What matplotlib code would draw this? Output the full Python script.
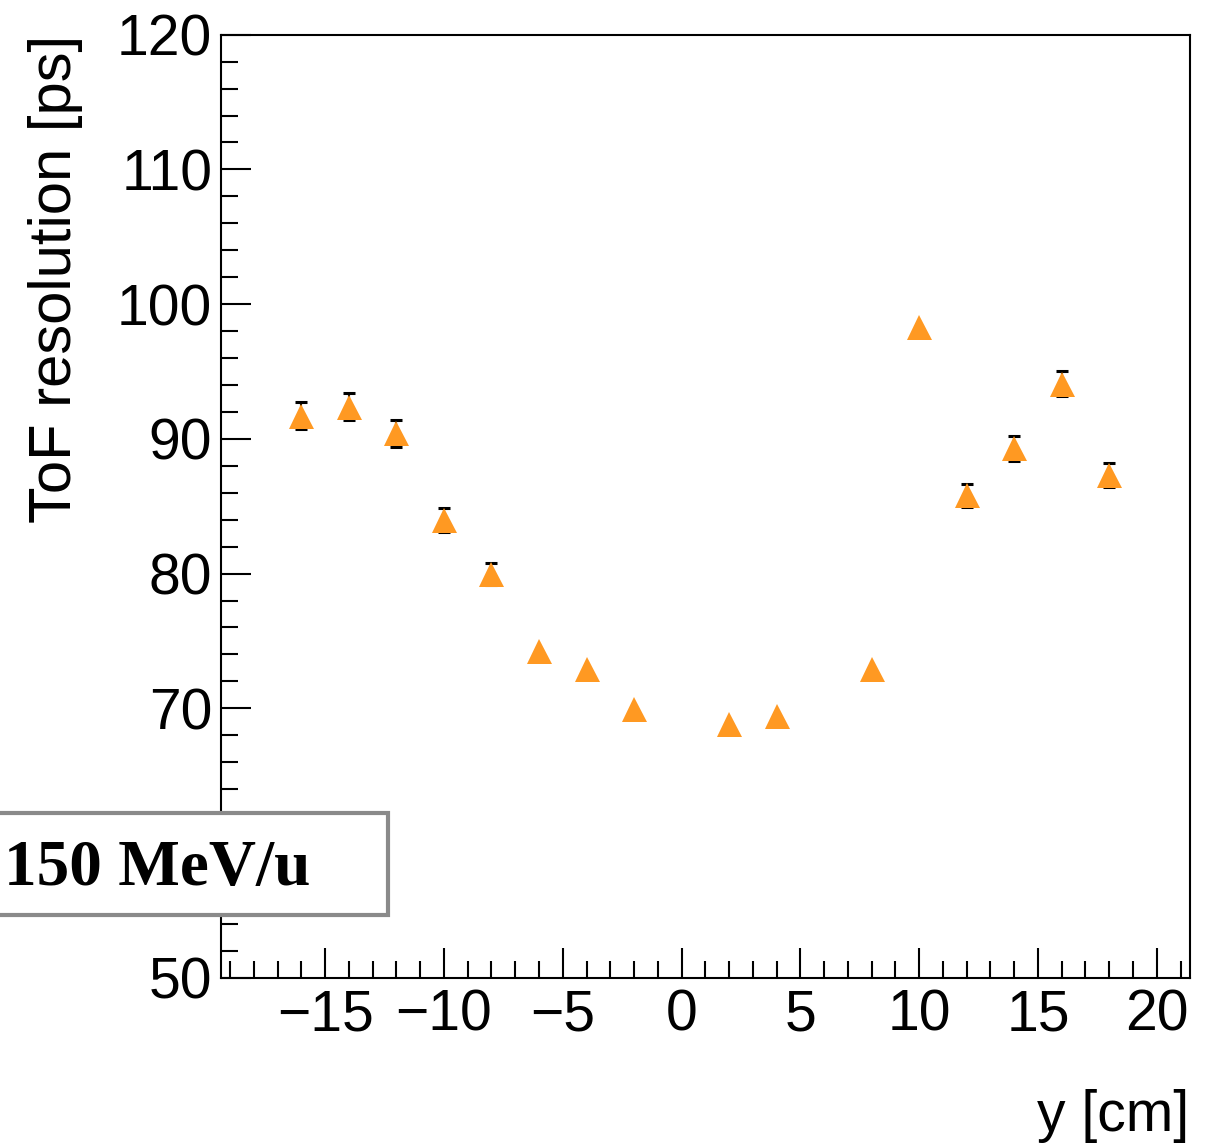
import matplotlib

matplotlib.use("Agg")
import matplotlib.pyplot as plt
import numpy as np
from matplotlib.patches import Rectangle
from matplotlib.ticker import MultipleLocator


# positions along the bar [cm] and the measured ToF resolution [ps]
y_positions = [-16, -14, -12, -10, -8, -6, -4, -2, 2, 4, 8, 10, 12, 14, 16, 18]
tof_resolution = [91.7, 92.4, 90.4, 84.0, 80.0, 74.25, 72.9, 69.95,
                  68.8, 69.4, 72.9, 98.3, 85.8, 89.3, 94.1, 87.3]
tof_error = [1.0, 1.0, 0.97, 0.9, 0.82, 0.6, 0.6, 0.6,
             0.6, 0.6, 0.6, 0.6, 0.84, 0.92, 0.91, 0.91]

x_range = (-19.4, 21.4)
y_range = (50, 120)
beam_label = "150 MeV/u"
x_title = "y [cm]"
y_title = "ToF resolution [ps]"

MARKER_COLOR = "#ff9922"
# like ROOT, an error bar hidden by the marker is not drawn
MIN_VISIBLE_ERROR = 0.8


def plot_resolution(output_path):
    plt.rcParams["font.family"] = ["Liberation Sans", "DejaVu Sans"]
    fig = plt.figure(figsize=(12.09, 11.48), dpi=100)
    ax = fig.add_axes([0.1825, 0.1483, 0.8018, 0.8215])

    x = np.array(y_positions, dtype=float)
    y = np.array(tof_resolution)
    err = np.array(tof_error)
    shown = err > MIN_VISIBLE_ERROR

    ax.errorbar(
        x[shown], y[shown], yerr=err[shown], fmt="none",
        ecolor="black", elinewidth=1.5, capsize=4.5, capthick=2.2, zorder=2,
    )
    ax.plot(x, y, linestyle="none", marker="^", markersize=18,
            color=MARKER_COLOR, markeredgewidth=0, zorder=3)

    ax.set_xlim(*x_range)
    ax.set_ylim(*y_range)
    ax.xaxis.set_major_locator(MultipleLocator(5))
    ax.xaxis.set_minor_locator(MultipleLocator(1))
    ax.yaxis.set_major_locator(MultipleLocator(10))
    ax.yaxis.set_minor_locator(MultipleLocator(2))
    ax.tick_params(axis="both", which="both", direction="in",
                   top=False, right=False, width=1.5, labelsize=41)
    ax.tick_params(axis="both", which="major", length=21.5)
    ax.tick_params(axis="both", which="minor", length=12)
    ax.tick_params(axis="x", which="major", pad=8)
    ax.tick_params(axis="y", which="major", pad=6)
    for spine in ax.spines.values():
        spine.set_linewidth(1.5)

    # the label box sits over the "60" tick label, so that label is not seen
    fig.canvas.draw()
    for tick in ax.yaxis.get_major_ticks():
        if abs(tick.get_loc() - 60) < 1e-6:
            tick.label1.set_visible(False)

    fig.text(0.984, 0.004, x_title, ha="right", va="bottom", fontsize=41)
    fig.text(0.046, 0.9698, y_title, ha="center", va="top",
             rotation=90, fontsize=43)

    box = Rectangle((-0.07, 0.2030), 0.3909, 0.0888, transform=fig.transFigure,
                    facecolor="white", edgecolor="#8a8a8a", linewidth=3,
                    zorder=5)
    fig.patches.append(box)
    fig.text(0.2565, 0.2291, beam_label, ha="right", va="baseline",
             fontsize=47, fontweight="bold",
             family=["Liberation Serif", "DejaVu Serif"], zorder=6)

    fig.savefig(output_path, dpi=100)
    plt.close(fig)


if __name__ == "__main__":
    plot_resolution("out.png")
